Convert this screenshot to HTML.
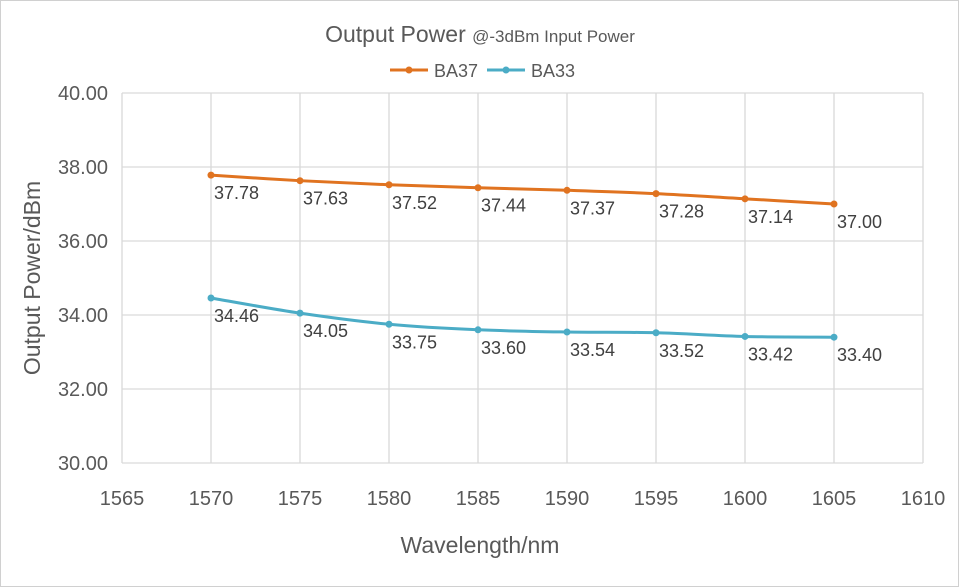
<!DOCTYPE html>
<html><head><meta charset="utf-8"><style>
body{margin:0;background:#fff;}
svg{display:block;font-family:"Liberation Sans","DejaVu Sans",sans-serif;}
</style></head><body>
<svg id="chart" width="959" height="587" viewBox="0 0 959 587">
<rect x="0.5" y="0.5" width="958" height="586" fill="#fff" stroke="#d0d0d0"/>
<text x="480" y="42" text-anchor="middle" font-size="23" fill="#595959">Output Power <tspan font-size="17">@-3dBm Input Power</tspan></text>
<g id="grid"></g>
<g id="series"></g>
<text x="480" y="553" text-anchor="middle" font-size="23" fill="#595959">Wavelength/nm</text>
<text transform="translate(40,278) rotate(-90)" text-anchor="middle" font-size="23" fill="#595959">Output Power/dBm</text>
<g>
<line x1="390" y1="70" x2="428" y2="70" stroke="#e07320" stroke-width="3"/>
<circle cx="409" cy="70" r="3.5" fill="#e07320"/>
<text x="434" y="77" font-size="18" fill="#595959">BA37</text>
<line x1="487" y1="70" x2="525" y2="70" stroke="#4bacc6" stroke-width="3"/>
<circle cx="506" cy="70" r="3.5" fill="#4bacc6"/>
<text x="531" y="77" font-size="18" fill="#595959">BA33</text>
</g>
</svg>
<script>
const wavelengths=[1570,1575,1580,1585,1590,1595,1600,1605];
const ba37=[37.78,37.63,37.52,37.44,37.37,37.28,37.14,37.00];
const ba33=[34.46,34.05,33.75,33.60,33.54,33.52,33.42,33.40];
const xTicks=[1565,1570,1575,1580,1585,1590,1595,1600,1605,1610];
const yTicks=[30,32,34,36,38,40];
const NS='http://www.w3.org/2000/svg';
const L=122,R=923,T=93,B=463;
const x=v=>L+(v-1565)/(1610-1565)*(R-L);
const y=v=>B-(v-30)/(40-30)*(B-T);
function mk(tag,attrs,parent){const e=document.createElementNS(NS,tag);for(const k in attrs)e.setAttribute(k,attrs[k]);parent.appendChild(e);return e;}
function smooth(pts){
  let d='M'+pts[0][0]+','+pts[0][1];
  for(let i=0;i<pts.length-1;i++){
    const p0=pts[Math.max(i-1,0)],p1=pts[i],p2=pts[i+1],p3=pts[Math.min(i+2,pts.length-1)];
    const c1x=p1[0]+(p2[0]-p0[0])/6,c1y=p1[1]+(p2[1]-p0[1])/6;
    const c2x=p2[0]-(p3[0]-p1[0])/6,c2y=p2[1]-(p3[1]-p1[1])/6;
    d+=' C'+c1x+','+c1y+' '+c2x+','+c2y+' '+p2[0]+','+p2[1];
  }
  return d;
}
const grid=document.getElementById('grid');
yTicks.forEach(v=>{
  const l=mk('line',{x1:L,x2:R,y1:y(v),y2:y(v),stroke:'#d9d9d9','stroke-width':1.3},grid);
  
  
  const t=mk('text',{x:L-14,y:y(v)+7,'text-anchor':'end','font-size':20,fill:'#595959'},grid);
  t.textContent=v.toFixed(2);
  
  
});
xTicks.forEach(v=>{
  const l=mk('line',{x1:x(v),x2:x(v),y1:T,y2:B,stroke:'#d9d9d9','stroke-width':1.3},grid);
  
  
  const t=mk('text',{x:x(v),y:B+42,'text-anchor':'middle','font-size':20,fill:'#595959'},grid);
  t.textContent=v;
  
  
});
const sg=document.getElementById('series');
[[ba37,'#e07320','ba37'],[ba33,'#4bacc6','ba33']].forEach(([vals,col,name])=>{
  const pts=vals.map((v,i)=>[x(wavelengths[i]),y(v)]);
  const p=mk('path',{d:smooth(pts),fill:'none',stroke:col,'stroke-width':3},sg);
  
  
  vals.forEach((v,i)=>{
    const c=mk('circle',{cx:x(wavelengths[i]),cy:y(v),r:3.5,fill:col},sg);
    
    
    const t=mk('text',{x:x(wavelengths[i])+3,y:y(v)+24,'font-size':18,fill:'#404040'},sg);
    t.textContent=v.toFixed(2);
    
    
  });
});
</script>
</body></html>
